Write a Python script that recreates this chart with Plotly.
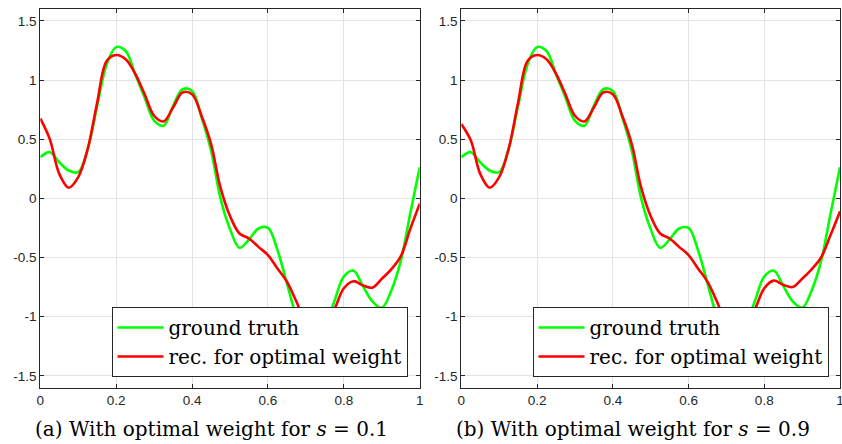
import plotly.graph_objects as go

# ---- data ----
x_grid = [0.0, 0.025, 0.05, 0.075, 0.1, 0.125, 0.15, 0.175, 0.2, 0.225, 0.25,
          0.275, 0.3, 0.325, 0.35, 0.375, 0.4, 0.425, 0.45, 0.475, 0.5, 0.525,
          0.55, 0.575, 0.6, 0.625, 0.65, 0.675, 0.7, 0.725, 0.75, 0.775, 0.8,
          0.825, 0.85, 0.875, 0.9, 0.925, 0.95, 0.975, 1.0]

gt_y = [0.347, 0.39, 0.305, 0.235, 0.221, 0.418, 0.782, 1.133, 1.278, 1.245, 1.049,
        0.852, 0.656, 0.614, 0.782, 0.922, 0.908, 0.684, 0.404, 0.0, -0.26, -0.418,
        -0.348, -0.255, -0.25, -0.437, -0.718, -1.0, -1.18, -1.2, -1.08, -0.87, -0.66,
        -0.61, -0.74, -0.87, -0.925, -0.78, -0.53, -0.13, 0.263]

rec_a_y = [0.675, 0.5, 0.207, 0.09, 0.179, 0.418, 0.81, 1.161, 1.211, 1.175, 1.054,
           0.88, 0.698, 0.65, 0.768, 0.894, 0.88, 0.698, 0.46, 0.09, -0.15, -0.297,
           -0.339, -0.41, -0.479, -0.592, -0.704, -0.872, -1.05, -1.12, -1.08, -0.94, -0.76,
           -0.70, -0.735, -0.755, -0.68, -0.6, -0.49, -0.26, -0.045]

rec_b_y = [0.628, 0.49, 0.207, 0.09, 0.179, 0.418, 0.81, 1.161, 1.211, 1.175, 1.054,
           0.88, 0.698, 0.65, 0.768, 0.894, 0.88, 0.698, 0.46, 0.09, -0.15, -0.297,
           -0.339, -0.41, -0.479, -0.592, -0.704, -0.872, -1.05, -1.12, -1.08, -0.94, -0.76,
           -0.695, -0.73, -0.75, -0.68, -0.6, -0.5, -0.31, -0.11]

x_ticks = [0, 0.2, 0.4, 0.6, 0.8, 1]
x_tick_text = ["0", "0.2", "0.4", "0.6", "0.8", "1"]
y_ticks = [-1.5, -1, -0.5, 0, 0.5, 1, 1.5]
y_tick_text = ["-1.5", "-1", "-0.5", "0", "0.5", "1", "1.5"]

captions = ["(a) With optimal weight for <i>s</i> = 0.1",
            "(b) With optimal weight for <i>s</i> = 0.9"]
names = ["ground truth", "rec. for optimal weight"]

W, H = 842, 444
GREEN = "#00ff00"
RED = "#ff0000"
AX = "#262626"
SERIF = "DejaVu Serif"

fig = go.Figure()

panels = [("x", "y", rec_a_y, "legend"), ("x2", "y2", rec_b_y, "legend2")]
for xa, ya, rec_y, leg in panels:
    fig.add_trace(go.Scatter(x=x_grid, y=gt_y, mode="lines", name=names[0],
                             line=dict(color=GREEN, width=2.6, shape="spline", smoothing=1.0),
                             xaxis=xa, yaxis=ya, legend=leg))
    fig.add_trace(go.Scatter(x=x_grid, y=rec_y, mode="lines", name=names[1],
                             line=dict(color=RED, width=2.6, shape="spline", smoothing=1.0),
                             xaxis=xa, yaxis=ya, legend=leg))

left_dom = [40.3 / W, 419.7 / W]
right_dom = [461.3 / W, 840.0 / W]
y_dom = [1 - 387.7 / H, 1 - 9 / H]

axis_common = dict(showline=True, linecolor=AX, linewidth=1, mirror="ticks",
                   ticks="inside", ticklen=4, tickcolor=AX, showgrid=True,
                   gridcolor="#e3e3e3", gridwidth=1, zeroline=False, automargin=False,
                   ticklabeloverflow="allow",
                   tickfont=dict(family="Liberation Sans", size=13.5, color=AX))

legend_common = dict(y=1 - 377 / H, xanchor="right", yanchor="bottom",
                     bgcolor="white", bordercolor=AX, borderwidth=1,
                     font=dict(family=SERIF, size=20, color="black"),
                     tracegroupgap=0, itemwidth=46)

fig.update_layout(
    width=W, height=H,
    margin=dict(l=0, r=0, t=0, b=0),
    paper_bgcolor="white", plot_bgcolor="white",
    xaxis=dict(domain=left_dom, range=[0, 1], tickvals=x_ticks, ticktext=x_tick_text,
               anchor="y", **axis_common),
    yaxis=dict(domain=y_dom, range=[-1.6, 1.6], tickvals=y_ticks, ticktext=y_tick_text,
               anchor="x", **axis_common),
    xaxis2=dict(domain=right_dom, range=[0, 1], tickvals=x_ticks, ticktext=x_tick_text,
                anchor="y2", **axis_common),
    yaxis2=dict(domain=y_dom, range=[-1.6, 1.6], tickvals=y_ticks, ticktext=y_tick_text,
                anchor="x2", **axis_common),
    legend=dict(x=407.5 / W, **legend_common),
    legend2=dict(x=828.5 / W, **legend_common),
    showlegend=True,
)

for i, cap in enumerate(captions):
    cx = (left_dom[0] + left_dom[1]) / 2 if i == 0 else (right_dom[0] + right_dom[1]) / 2
    fig.add_annotation(text=cap, xref="paper", yref="paper", x=cx - 18 / W, y=1 - 429 / H,
                       xanchor="center", yanchor="middle", showarrow=False,
                       font=dict(family=SERIF, size=20, color="black"))

fig.write_html("out.html", config={"displayModeBar": False},
               post_script="document.body.style.margin='0';document.body.style.overflow='hidden';")
